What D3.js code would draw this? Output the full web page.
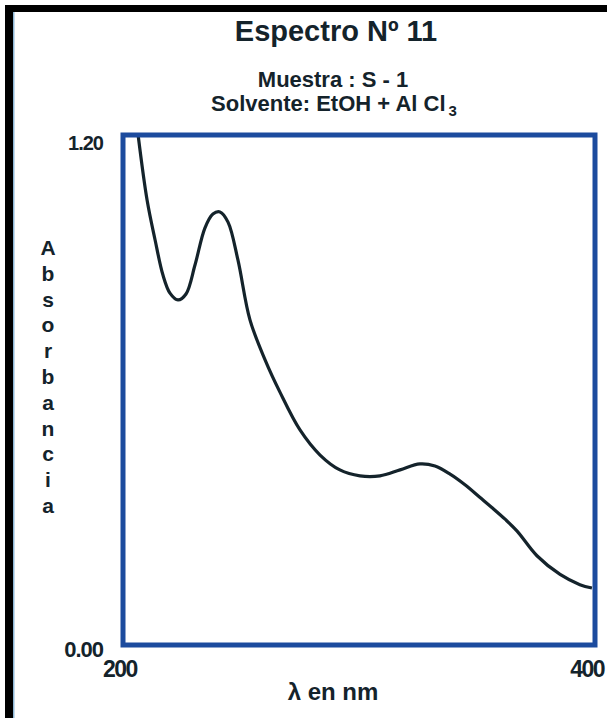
<!DOCTYPE html>
<html>
<head>
<meta charset="utf-8">
<script src="https://cdn.jsdelivr.net/npm/d3@7"></script>
<style>
  body { margin: 0; background: #fff; }
  svg { display: block; font-family: "Liberation Sans", Arial, sans-serif; }
</style>
</head>
<body>
<svg width="607" height="718"></svg>
<script>
// wavelength (nm) and absorbance
const wavelength = [206.4, 210.2, 213.6, 216.9, 219.9, 223.3, 226.7, 230.5, 234.7, 238.1, 241.1, 244.5, 248.7, 253.8, 260.2, 266.5, 275.0, 283.5, 291.9, 300.4, 308.9, 317.4, 325.8, 332.2, 338.6, 344.9, 351.3, 356.4, 361.9, 367.0, 375.4, 385.2, 393.6, 398.7]
const absorbance = [1.200, 1.047, 0.953, 0.871, 0.828, 0.812, 0.826, 0.894, 0.981, 1.014, 1.019, 0.995, 0.906, 0.765, 0.671, 0.595, 0.506, 0.447, 0.412, 0.398, 0.398, 0.412, 0.426, 0.421, 0.402, 0.377, 0.347, 0.323, 0.296, 0.268, 0.210, 0.166, 0.142, 0.134]
const xTicks = [200, 400]
const yTicks = [0, 1.2]
const letters = 'Absorbancia'.split('')

const svg = d3.select('svg')
const blue = '#1c4b9e'
const ink = '#14232b'

const x = d3.scaleLinear().domain([200, 400]).range([123, 595])
const y = d3.scaleLinear().domain([0, 1.2]).range([645, 135])

// scanned page edges
svg.append('rect').attr('x', 5).attr('y', 5).attr('width', 602).attr('height', 7).attr('fill', '#000')
svg.append('rect').attr('x', 5).attr('y', 5).attr('width', 8).attr('height', 713).attr('fill', '#000')
svg.append('rect').attr('x', 13).attr('y', 12).attr('width', 1.5).attr('height', 706).attr('fill', '#8fb8d6')

svg.append('text').attr('x', 336).attr('y', 41).attr('text-anchor', 'middle')
  .attr('font-size', 29).attr('font-weight', 'bold').attr('fill', ink).text('Espectro Nº 11')
svg.append('text').attr('x', 333).attr('y', 87).attr('text-anchor', 'middle')
  .attr('font-size', 22).attr('font-weight', 'bold').attr('fill', ink).text('Muestra : S - 1')
const solv = svg.append('text').attr('x', 334).attr('y', 111).attr('text-anchor', 'middle')
  .attr('font-size', 22).attr('font-weight', 'bold').attr('fill', ink)
solv.append('tspan').text('Solvente: EtOH + Al Cl')
solv.append('tspan').attr('dy', 5).attr('dx', 3).attr('font-size', 15).text('3')

// curve
const line = d3.line()
  .x((d, i) => x(wavelength[i]))
  .y(d => y(d))
  .curve(d3.curveCatmullRom)

svg.append('path')
  .datum(absorbance)
  .attr('d', line)
  .attr('fill', 'none')
  .attr('stroke', ink)
  .attr('stroke-width', 3.2)

// frame
svg.append('rect')
  .attr('x', x(200)).attr('y', y(1.2))
  .attr('width', x(400) - x(200)).attr('height', y(0) - y(1.2))
  .attr('fill', 'none').attr('stroke', blue).attr('stroke-width', 5)

// tick labels
svg.selectAll('.ylab').data(yTicks).enter().append('text')
  .attr('class', 'ylab')
  .attr('x', 103).attr('y', d => d === 0 ? 657 : 150)
  .attr('text-anchor', 'end').attr('font-size', d => d === 0 ? 22 : 20).attr('font-weight', 'bold')
  .attr('fill', ink).attr('letter-spacing', -1)
  .text(d => d3.format('.2f')(d))

svg.selectAll('.xlab').data(xTicks).enter().append('text')
  .attr('class', 'xlab')
  .attr('x', d => d === 200 ? 103 : 604).attr('y', 677)
  .attr('text-anchor', d => d === 200 ? 'start' : 'end')
  .attr('font-size', 23).attr('font-weight', 'bold')
  .attr('fill', ink).attr('letter-spacing', -1.5)
  .text(d => d)

svg.append('text').attr('x', 333).attr('y', 700).attr('text-anchor', 'middle')
  .attr('font-size', 24).attr('font-weight', 'bold').attr('fill', ink).text('λ en nm')

svg.selectAll('.ylet').data(letters).enter().append('text')
  .attr('class', 'ylet')
  .attr('x', 48).attr('y', (d, i) => 255 + i * 25.8)
  .attr('text-anchor', 'middle').attr('font-size', 21).attr('font-weight', 'bold')
  .attr('fill', ink).text(d => d)
</script>
</body>
</html>
